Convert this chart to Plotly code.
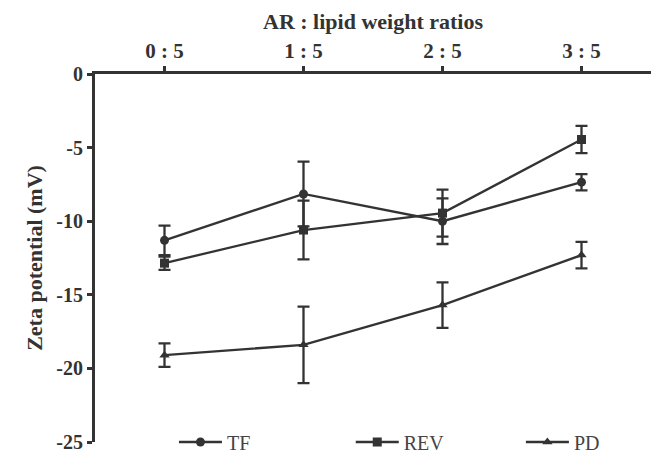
import plotly.graph_objects as go

ratios = ["0 : 5", "1 : 5", "2 : 5", "3 : 5"]
tf_mean = [-11.3, -8.15, -10.0, -7.35]
tf_err = [1.0, 2.2, 1.55, 0.55]
rev_mean = [-12.85, -10.6, -9.45, -4.45]
rev_err = [0.45, 2.0, 1.6, 0.93]
pd_mean = [-19.1, -18.4, -15.7, -12.3]
pd_err = [0.8, 2.6, 1.55, 0.9]
y_ticks = [0, -5, -10, -15, -20, -25]
y_ticktext = ["0", "-5", "-10", "-15", "-20", "-25"]

dark = "#333333"
serif = "Liberation Serif, Times New Roman, serif"

fig = go.Figure()
series = [("TF", tf_mean, tf_err, "circle", "legend"),
          ("REV", rev_mean, rev_err, "square", "legend2"),
          ("PD", pd_mean, pd_err, "triangle-up", "legend3")]
for name, m, e, sym, lg in series:
    fig.add_trace(go.Scatter(
        x=ratios, y=m, name=name, mode="lines+markers", legend=lg,
        line=dict(color=dark, width=2.3),
        marker=dict(symbol=sym, size=9, color=dark),
        error_y=dict(type="data", array=e, visible=True, color=dark,
                     thickness=2.3, width=6),
    ))

def leg(x):
    return dict(orientation="h", x=x, y=0.0, xanchor="left", yanchor="middle",
                bgcolor="rgba(0,0,0,0)", font=dict(size=20, family=serif, color="#444"),
                itemwidth=43)

fig.update_layout(
    width=651, height=457,
    margin=dict(l=95, r=0, t=74, b=15, autoexpand=False),
    paper_bgcolor="white", plot_bgcolor="white",
    font=dict(family=serif, color=dark),
    showlegend=True,
    legend=leg(0.142), legend2=leg(0.46), legend3=leg(0.766),
    xaxis=dict(
        side="top", type="category", range=[-0.5, 3.5],
        showline=True, linecolor=dark, linewidth=3.2,
        ticks="outside", ticklen=5, tickwidth=2.5, tickcolor=dark,
        tickfont=dict(family=serif, size=21, color=dark, weight="bold"),
        showgrid=False, zeroline=False,
        title=dict(text="<b>AR : lipid weight ratios</b>", font=dict(family=serif, size=22, color=dark), standoff=3),
    ),
    yaxis=dict(
        range=[-25, 0], tickvals=y_ticks, ticktext=y_ticktext,
        showline=True, linecolor=dark, linewidth=3.2,
        ticks="outside", ticklen=5, tickwidth=2.5, tickcolor=dark,
        tickfont=dict(family=serif, size=20, color=dark, weight="bold"),
        showgrid=False, zeroline=False,
        title=dict(text="<b>Zeta potential (mV)</b>", font=dict(family=serif, size=22, color=dark), standoff=8),
    ),
)

fig.write_html("out.html")
